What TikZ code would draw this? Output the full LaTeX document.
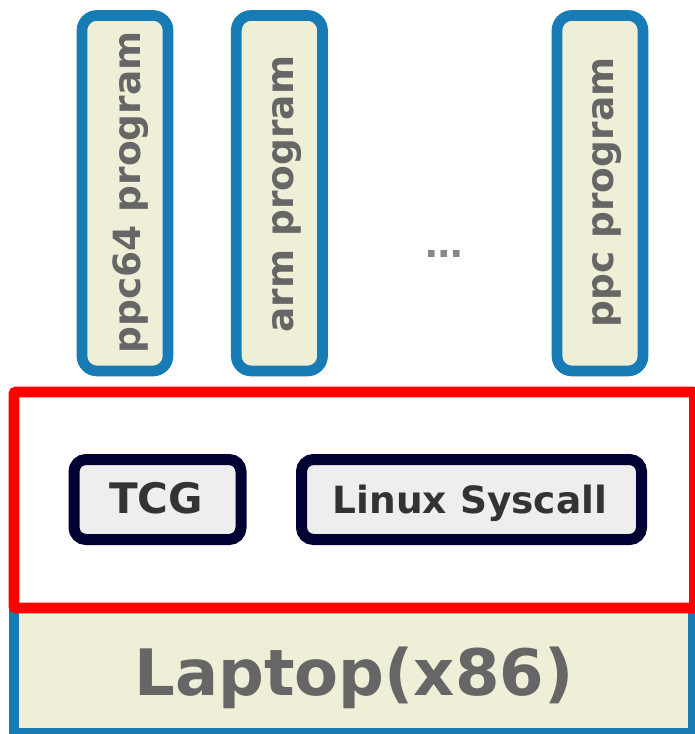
\documentclass[tikz,border=0pt]{standalone}
\usepackage{fontspec}
\setmainfont{DejaVu Sans}
\definecolor{progblue}{HTML}{177BB6}
\definecolor{progfill}{HTML}{EFEFD8}
\definecolor{navy}{HTML}{000033}
\definecolor{modfill}{HTML}{EEEEEE}
\definecolor{labelgray}{HTML}{666666}
\definecolor{darkgray}{HTML}{333333}
\definecolor{dotgray}{HTML}{888888}
\tikzset{
  progbox/.style={draw=progblue, line width=10.7pt, fill=progfill,
    rounded corners=15pt, rectangle, inner sep=0pt, minimum width=86pt,
    minimum height=355.5pt},
  progtext/.style={rotate=90, inner sep=0pt, text=labelgray,
    font=\fontsize{37.5}{40}\selectfont\bfseries},
  modbox/.style={draw=navy, line width=11pt, fill=modfill,
    rounded corners=12pt, rectangle, inner sep=0pt, minimum height=80pt},
  hostbox/.style={draw=progblue, line width=10pt, fill=progfill,
    rectangle, inner sep=0pt},
  emubox/.style={draw=red, line width=10.7pt, fill=white,
    rounded corners=2pt, rectangle, inner sep=0pt},
}
\begin{document}
\begin{tikzpicture}[x=1pt,y=-1pt]
  \useasboundingbox (0,0) rectangle (695,734);
  \clip (0,0) rectangle (695,734);

  % guest programs
  \node[progbox] (ppc64) at (125,193.2) {};
  \node[progbox, minimum width=86.2pt] (arm) at (279.4,193.2) {};
  \node[progbox] (ppc) at (600,193.2) {};
  \node[progtext] (ppc64t) at (131,192.5) {ppc64 program};
  \node[progtext] (armt) at (287,194) {arm program};
  \node[progtext] (ppct) at (606.7,192.5) {ppc program};
  \node[anchor=base, inner sep=0pt, text=dotgray,
        font=\fontsize{37.5}{40}\selectfont\bfseries] (dots) at (444,257) {…};

  % host machine
  \node[hostbox, minimum width=679pt, minimum height=125pt] (host) at (353.5,670.5) {};
  \node[anchor=base, inner sep=0pt, text=labelgray,
        font=\fontsize{64}{70}\selectfont\bfseries] (hostt) at (354,695) {Laptop(x86)};

  % emulator layer
  \node[emubox, minimum width=680.5pt, minimum height=216pt] (emu) at (354.25,500) {};
  \node[modbox, minimum width=167pt] (tcg) at (157.5,499.5) {};
  \node[modbox, minimum width=340pt] (sys) at (471.5,499.5) {};
  \node[anchor=base, inner sep=0pt, text=darkgray,
        font=\fontsize{42}{46}\selectfont\bfseries] (tcgt) at (156,513) {TCG};
  \node[anchor=base, inner sep=0pt, text=darkgray,
        font=\fontsize{37.5}{40}\selectfont\bfseries] (syst) at (470,513) {Linux Syscall};
\end{tikzpicture}
\end{document}
